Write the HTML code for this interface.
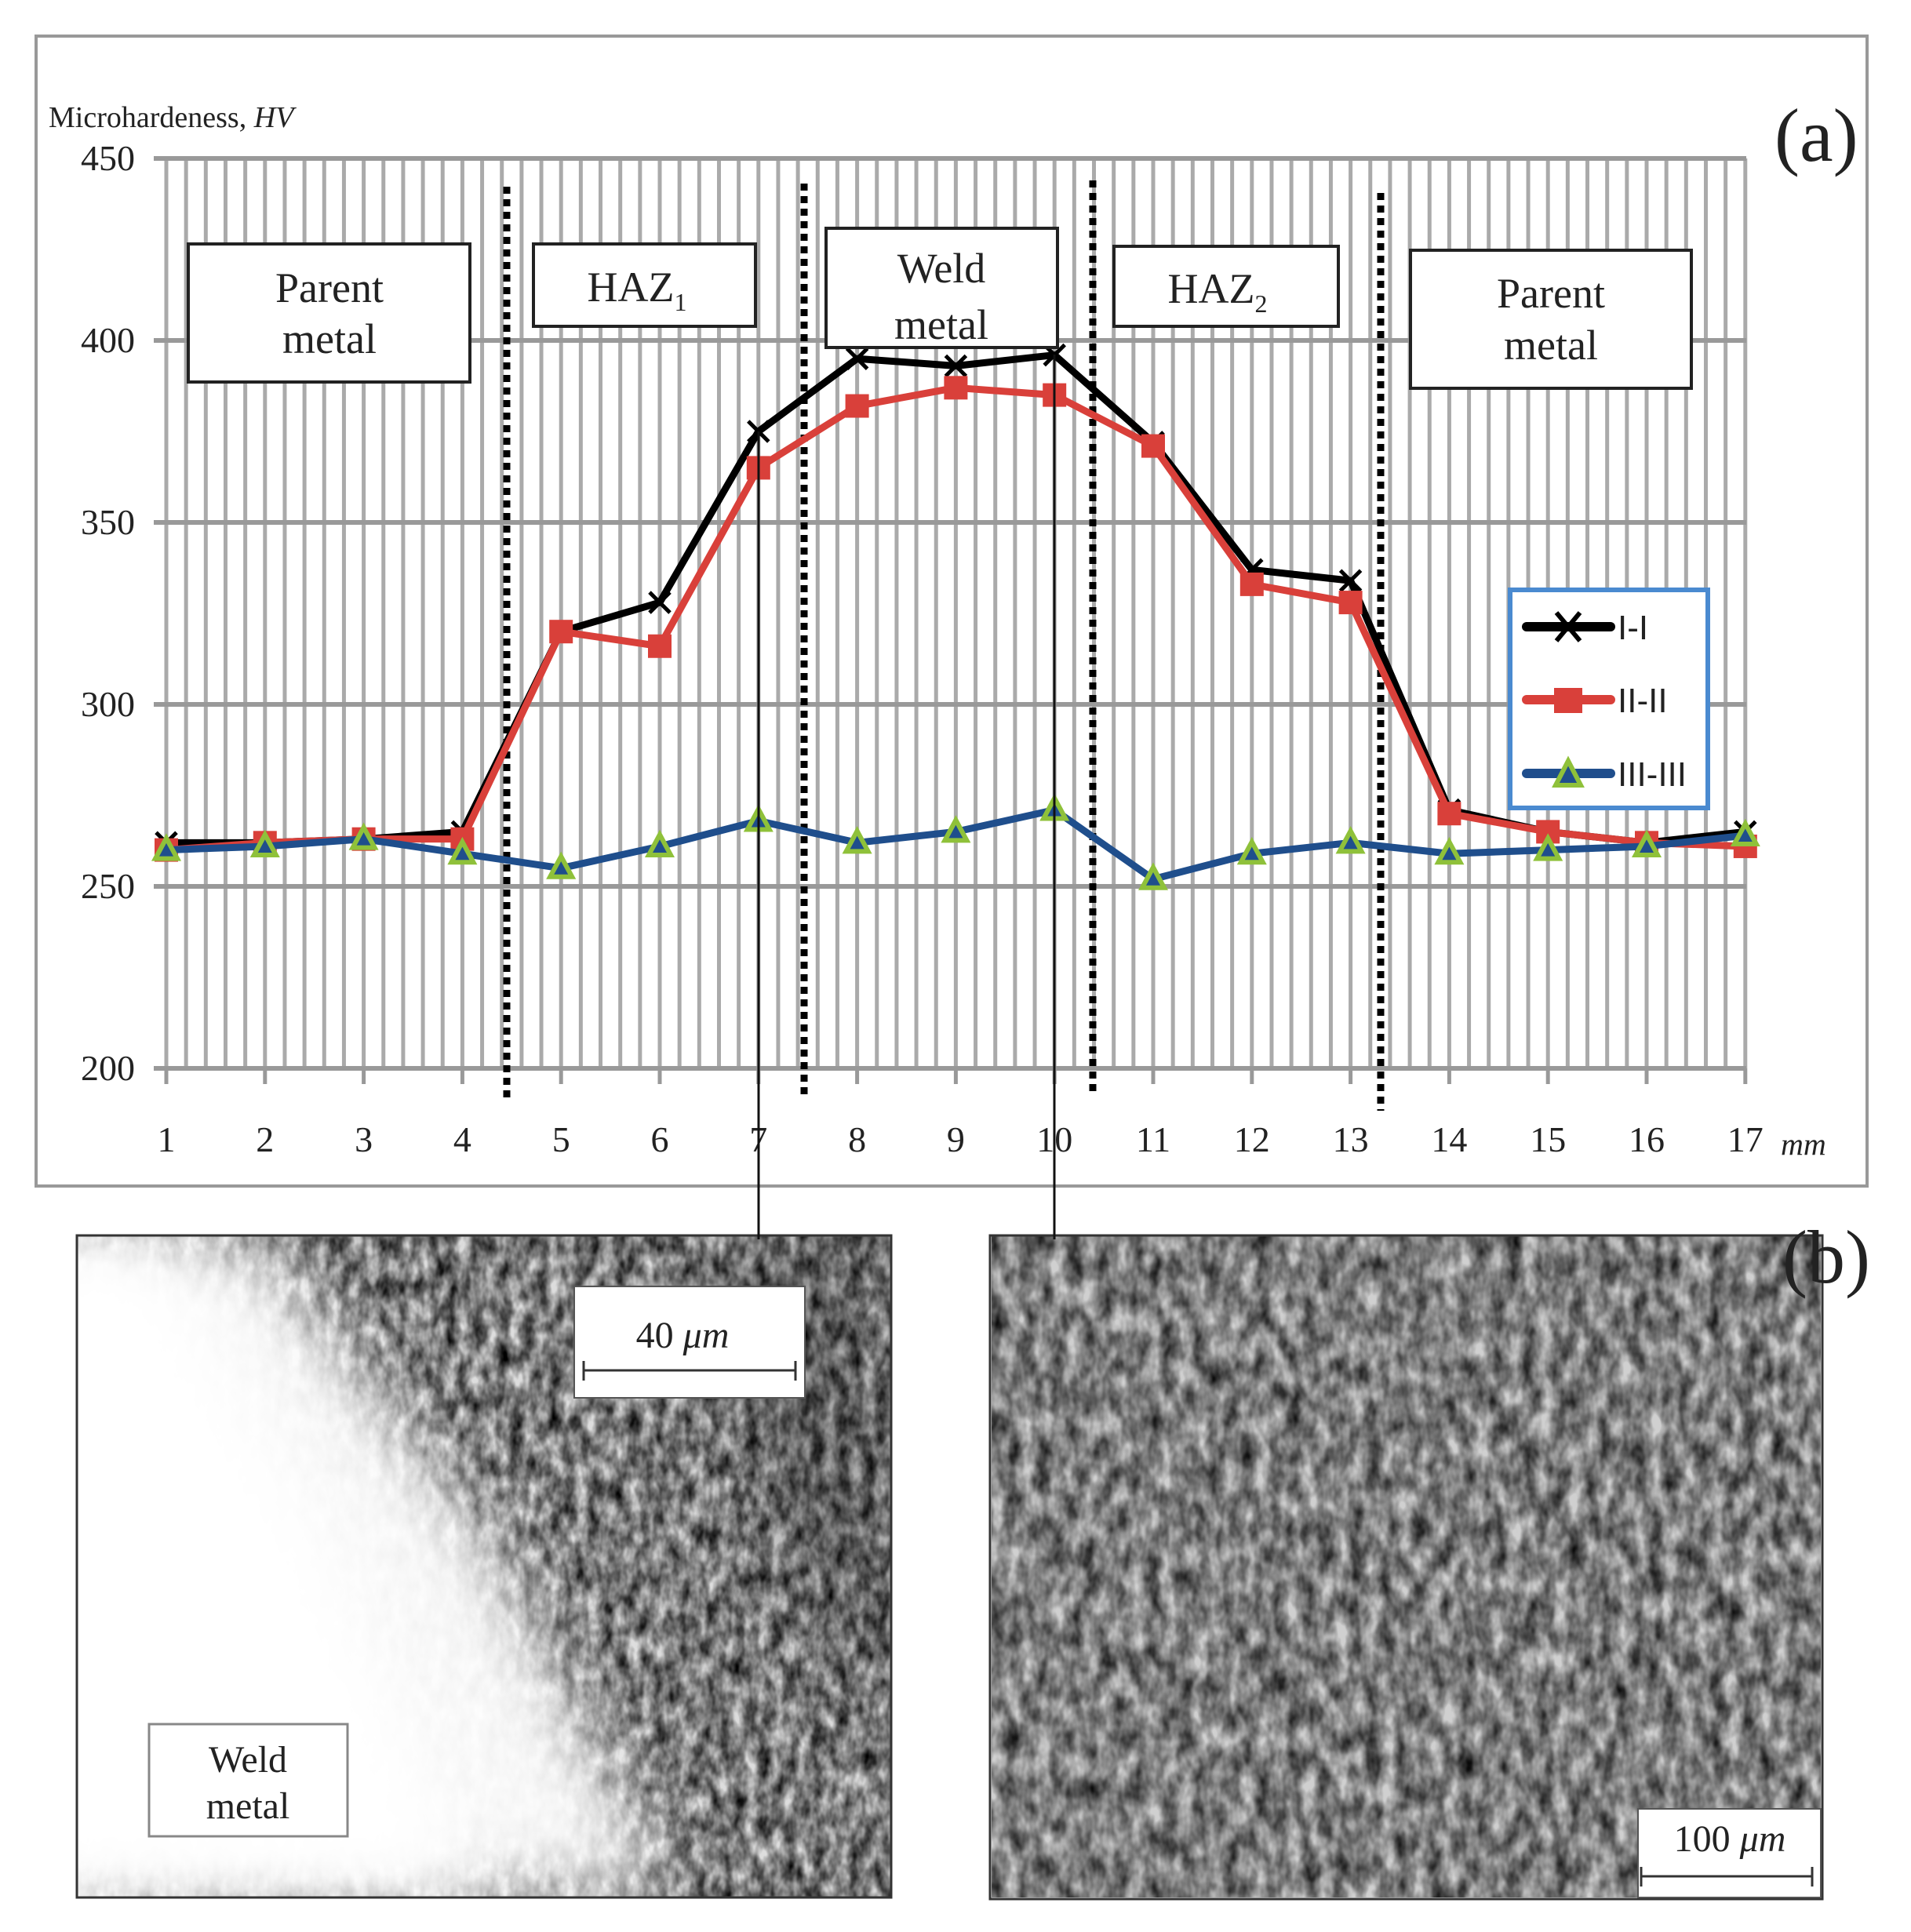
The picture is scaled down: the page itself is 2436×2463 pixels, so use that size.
<!DOCTYPE html>
<html><head><meta charset="utf-8"><style>
html,body{margin:0;padding:0;background:#fff}
svg{display:block}
text{font-family:"Liberation Serif",serif;fill:#222}
</style></head><body>
<svg id="s" width="2436" height="2463" viewBox="0 0 2436 2463" xmlns="http://www.w3.org/2000/svg">
<defs>
<filter id="tex" x="0" y="0" width="100%" height="100%">
<feTurbulence type="fractalNoise" baseFrequency="0.06 0.035" numOctaves="3" seed="4"/>
<feColorMatrix type="matrix" values="0 0 0 0 0  0 0 0 0 0  0 0 0 0 0  0 0 0 -1.4 1.15"/>
</filter>
<filter id="tex2" x="0" y="0" width="100%" height="100%">
<feTurbulence type="fractalNoise" baseFrequency="0.05 0.03" numOctaves="3" seed="9"/>
<feColorMatrix type="matrix" values="0 0 0 0 0  0 0 0 0 0  0 0 0 0 0  0 0 0 -1.3 1.05"/>
</filter>
<filter id="bl" x="-50%" y="-50%" width="200%" height="200%"><feGaussianBlur stdDeviation="45"/></filter>
<clipPath id="c1"><rect x="98" y="1575" width="1038" height="844"/></clipPath>
</defs>
<rect x="46" y="46" width="2334" height="1466" fill="#fff" stroke="#999" stroke-width="4"/>
<g id="grid"></g>
<g id="dots"></g>
<g id="series"></g>
<text x="62" y="162" font-size="38">Microhardeness, <tspan font-style="italic">HV</tspan></text>
<text x="2262" y="205" font-size="96">(a)</text>
<g id="ylab" font-size="46" text-anchor="end"></g>
<g id="xlab" font-size="46" text-anchor="middle"></g>
<text x="2270" y="1472" font-size="40" font-style="italic">mm</text>
<g font-size="54" text-anchor="middle" stroke-width="4">
<rect x="240" y="311" width="359" height="176" fill="#fff" stroke="#222"/>
<text x="420" y="385">Parent</text><text x="420" y="450">metal</text>
<rect x="680" y="311" width="283" height="105" fill="#fff" stroke="#222"/>
<text x="812" y="384">HAZ<tspan font-size="32" dy="12">1</tspan></text>
<rect x="1053" y="291" width="295" height="152" fill="#fff" stroke="#222"/>
<text x="1200" y="360">Weld</text><text x="1200" y="432">metal</text>
<rect x="1420" y="314" width="286" height="102" fill="#fff" stroke="#222"/>
<text x="1552" y="386">HAZ<tspan font-size="32" dy="12">2</tspan></text>
<rect x="1798" y="319" width="358" height="176" fill="#fff" stroke="#222"/>
<text x="1977" y="392">Parent</text><text x="1977" y="458">metal</text>
</g>
<rect x="1925" y="752" width="252" height="278" fill="#fff" stroke="#4a8ad0" stroke-width="6"/>
<g font-size="44">
<line x1="1946" y1="799" x2="2053" y2="799" stroke="#000" stroke-width="12" stroke-linecap="round"/>
<path d="M1984,781 L2014,817 M2014,781 L1984,817" stroke="#000" stroke-width="6"/>
<text x="2062" y="815" style="font-family:'Liberation Sans',sans-serif" fill="#222">I-I</text>
<line x1="1946" y1="892" x2="2053" y2="892" stroke="#d9403a" stroke-width="12" stroke-linecap="round"/>
<rect x="1981" y="877" width="36" height="32" fill="#d9403a"/>
<text x="2062" y="908" style="font-family:'Liberation Sans',sans-serif" fill="#222">II-II</text>
<line x1="1946" y1="986" x2="2053" y2="986" stroke="#1f4e8c" stroke-width="12" stroke-linecap="round"/>
<path d="M1999,970 L2015,1001 L1983,1001 Z" fill="#1f4e8c" stroke="#8fc13a" stroke-width="6"/>
<text x="2062" y="1002" style="font-family:'Liberation Sans',sans-serif" fill="#222">III-III</text>
</g>
<g clip-path="url(#c1)">
<rect x="98" y="1575" width="1038" height="844" fill="#ddd"/>
<rect x="98" y="1575" width="1038" height="844" filter="url(#tex)"/>
<polygon points="900,1575 1136,1575 1136,2200 1000,2000" fill="#000" opacity="0.25" filter="url(#bl)"/>
<polygon points="0,1575 330,1575 620,1950 860,2419 0,2419" fill="#fff" filter="url(#bl)" opacity="0.95"/>
<polygon points="0,1575 200,1575 420,1950 620,2419 0,2419" fill="#fff" filter="url(#bl)"/>
</g>
<rect x="98" y="1575" width="1038" height="844" fill="none" stroke="#333" stroke-width="3"/>
<rect x="1264" y="1575" width="1057" height="844" fill="#d0d0d0"/>
<rect x="1264" y="1575" width="1057" height="844" filter="url(#tex2)"/>
<rect x="1262" y="1575" width="1061" height="846" fill="none" stroke="#333" stroke-width="3"/>
<rect x="732" y="1640" width="294" height="142" fill="#fff" stroke="#555" stroke-width="2"/>
<text x="870" y="1718" font-size="48" text-anchor="middle">40 <tspan font-style="italic">μm</tspan></text>
<path d="M744,1747 H1014 M744,1735 V1760 M1014,1735 V1760" stroke="#333" stroke-width="3"/>
<rect x="190" y="2198" width="253" height="143" fill="#fff" stroke="#888" stroke-width="3"/>
<text x="316" y="2259" font-size="48" text-anchor="middle">Weld</text>
<text x="316" y="2318" font-size="48" text-anchor="middle">metal</text>
<rect x="2088" y="2306" width="233" height="113" fill="#fff" stroke="#555" stroke-width="2"/>
<text x="2205" y="2360" font-size="48" text-anchor="middle">100 <tspan font-style="italic">μm</tspan></text>
<path d="M2092,2392 H2310 M2092,2380 V2405 M2310,2380 V2405" stroke="#333" stroke-width="3"/>
<text x="2272" y="1635" font-size="96">(b)</text>
<line x1="967" y1="550" x2="967" y2="1580" stroke="#111" stroke-width="3"/>
<line x1="1344" y1="452" x2="1344" y2="1580" stroke="#111" stroke-width="3"/>
</svg>
<script>
var NS="http://www.w3.org/2000/svg";
function el(p,t,a){var e=document.createElementNS(NS,t);for(var k in a)e.setAttribute(k,a[k]);p.appendChild(e);return e;}
function X(i){return 212+(i-1)*125.8;}
function Y(v){return 1362-(v-200)*4.64;}
var g=document.getElementById('grid');
for(var k=0;k<=80;k++){var x=212+k*125.8/5;el(g,'line',{x1:x,y1:202,x2:x,y2:1362,stroke:'#aaa','stroke-width':5});}
for(var v=250;v<=450;v+=50){el(g,'line',{x1:196,y1:Y(v),x2:2226,y2:Y(v),stroke:'#999','stroke-width':6});}
el(g,'line',{x1:196,y1:1362,x2:2226,y2:1362,stroke:'#999','stroke-width':6});
for(var i=1;i<=17;i++){el(g,'line',{x1:X(i),y1:1362,x2:X(i),y2:1382,stroke:'#999','stroke-width':5});}
var yl=document.getElementById('ylab');
for(var v=200;v<=450;v+=50){var t=el(yl,'text',{x:172,y:Y(v)+15});t.textContent=v;}
var xl=document.getElementById('xlab');
for(var i=1;i<=17;i++){var t=el(xl,'text',{x:X(i),y:1468});t.textContent=i;}
var d=document.getElementById('dots');
[[646,238,1405],[1025,234,1400],[1393,230,1397],[1760,246,1416]].forEach(function(a){
el(d,'line',{x1:a[0],y1:a[1],x2:a[0],y2:a[2],stroke:'#000','stroke-width':9,'stroke-dasharray':'9 7'});});
var s1=[262,262,263,265,320,328,375,395,393,396,372,337,334,271,265,262,265];
var s2=[260,262,263,263,320,316,365,382,387,385,371,333,328,270,265,262,261];
var s3=[260,261,263,259,255,261,268,262,265,271,252,259,262,259,260,261,264];
var sg=document.getElementById('series');
function pts(s){return s.map(function(v,i){return X(i+1)+','+Y(v);}).join(' ');}
el(sg,'polyline',{points:pts(s1),fill:'none',stroke:'#000','stroke-width':9,'stroke-linejoin':'round'});
s1.forEach(function(v,i){var x=X(i+1),y=Y(v);el(sg,'path',{d:'M'+(x-13)+','+(y-13)+'L'+(x+13)+','+(y+13)+'M'+(x+13)+','+(y-13)+'L'+(x-13)+','+(y+13),stroke:'#000','stroke-width':5});});
el(sg,'polyline',{points:pts(s2),fill:'none',stroke:'#d9403a','stroke-width':9,'stroke-linejoin':'round'});
s2.forEach(function(v,i){el(sg,'rect',{x:X(i+1)-15,y:Y(v)-15,width:30,height:30,fill:'#d9403a'});});
el(sg,'polyline',{points:pts(s3),fill:'none',stroke:'#1f4e8c','stroke-width':9,'stroke-linejoin':'round'});
s3.forEach(function(v,i){var x=X(i+1),y=Y(v);el(sg,'path',{d:'M'+x+','+(y-15)+'L'+(x+14)+','+(y+11)+'L'+(x-14)+','+(y+11)+'Z',fill:'#1f4e8c',stroke:'#8fc13a','stroke-width':6});});
</script>
</body></html>
